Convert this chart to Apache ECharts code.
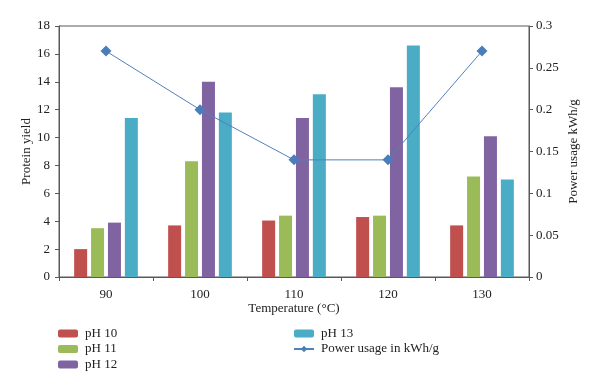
<!DOCTYPE html>
<html>
<head>
<meta charset="utf-8">
<script src="https://cdn.jsdelivr.net/npm/echarts@6/dist/echarts.min.js"></script>
<style>html,body{margin:0;padding:0;background:#fff;}#c{width:600px;height:392px;}</style>
</head>
<body>
<div id="c"></div>
<script>
var categories = ['90', '100', '110', '120', '130'];
var ph10 = [2.0, 3.7, 4.05, 4.3, 3.7];
var ph11 = [3.5, 8.3, 4.4, 4.4, 7.2];
var ph12 = [3.9, 14.0, 11.4, 13.6, 10.1];
var ph13 = [11.4, 11.8, 13.1, 16.6, 7.0];
var power = [0.27, 0.20, 0.14, 0.14, 0.27];

var font = 'Liberation Serif';
var axisColor = '#595959';
var chart = echarts.init(document.getElementById('c'), null, {renderer: 'canvas'});
function barSeries(name, data, color) {
  return {
    name: name, type: 'bar', data: data, barWidth: 13, barGap: '30%',
    itemStyle: {color: color}
  };
}
var legendText = {fontFamily: font, fontSize: 13, color: '#222', padding: [0, 0, 0, 2]};
chart.setOption({
  animation: false,
  textStyle: {fontFamily: font},
  grid: {left: 59, right: 71, top: 26, bottom: 115, show: true, borderColor: axisColor, borderWidth: 1, containLabel: false},
  legend: [
    {left: 58, top: 327, orient: 'vertical', itemWidth: 20, itemHeight: 8, itemGap: 2.5, padding: 0,
     textStyle: legendText,
     data: ['pH 10', 'pH 11', 'pH 12']},
    {left: 293, top: 327, orient: 'vertical', itemWidth: 20, itemHeight: 8, itemGap: 2.5, padding: 0,
     textStyle: legendText,
     data: ['pH 13', 'Power usage in kWh/g']}
  ],
  xAxis: {
    type: 'category', data: categories,
    name: 'Temperature (°C)', nameLocation: 'middle', nameGap: 25, nameMoveOverlap: false,
    nameTextStyle: {fontFamily: font, fontSize: 13, color: '#222'},
    axisLine: {lineStyle: {color: axisColor}},
    axisTick: {show: true, length: 4, lineStyle: {color: axisColor}},
    axisLabel: {fontFamily: font, fontSize: 13, color: '#222', margin: 11}
  },
  yAxis: [
    {type: 'value', min: 0, max: 18, interval: 2,
     name: 'Protein yield', nameLocation: 'middle', nameGap: 26, nameRotate: 90, nameMoveOverlap: false,
     nameTextStyle: {fontFamily: font, fontSize: 13, color: '#222'},
     axisLine: {show: true, lineStyle: {color: axisColor}},
     axisTick: {show: true, length: 4, lineStyle: {color: axisColor}},
     axisLabel: {fontFamily: font, fontSize: 13, color: '#222', margin: 9},
     splitLine: {show: false}},
    {type: 'value', min: 0, max: 0.3, interval: 0.05,
     name: 'Power usage kWh/g', nameLocation: 'middle', nameGap: 38, nameRotate: 90, nameMoveOverlap: false,
     nameTextStyle: {fontFamily: font, fontSize: 13, color: '#222'},
     axisLine: {show: true, lineStyle: {color: axisColor}},
     axisTick: {show: true, length: 4, lineStyle: {color: axisColor}},
     axisLabel: {fontFamily: font, fontSize: 13, color: '#222', margin: 7,
       formatter: function (v) { return String(+v.toFixed(2)); }},
     splitLine: {show: false}}
  ],
  series: [
    barSeries('pH 10', ph10, '#c0504d'),
    barSeries('pH 11', ph11, '#9bbb59'),
    barSeries('pH 12', ph12, '#8064a2'),
    barSeries('pH 13', ph13, '#4bacc6'),
    {name: 'Power usage in kWh/g', type: 'line', yAxisIndex: 1, data: power,
     symbol: 'diamond', symbolSize: 11,
     lineStyle: {color: '#4f81bd', width: 1},
     itemStyle: {color: '#4a7ebb'}}
  ]
});
</script>
</body>
</html>
